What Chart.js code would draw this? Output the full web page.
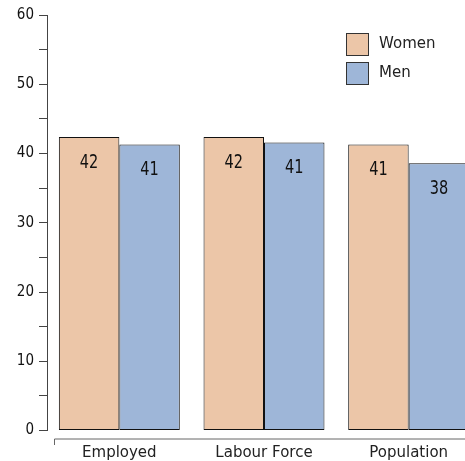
<!DOCTYPE html>
<html>
<head>
<style>
  html, body { margin: 0; padding: 0; background: #fff; overflow: hidden; }
  #wrap { width: 490px; height: 461px; }
</style>
</head>
<body>
<div id="wrap">
  <canvas id="groups" width="490" height="461"></canvas>
</div>

<script src="https://cdn.jsdelivr.net/npm/chart.js"></script>

<script>
  const categories = ['Employed', 'Labour Force', 'Population'];
  const women = [42.4, 42.4, 41.3];
  const men = [41.3, 41.6, 38.6];
  const womenLabels = ['42', '42', '41'];
  const menLabels = ['41', '41', '38'];
  const yTicks = [0, 10, 20, 30, 40, 50, 60];

  const barLabels = [womenLabels, menLabels];

  // numbers inside the top of each bar
  const valueText = {
    id: 'valueText',
    afterDatasetsDraw(chart) {
      const c = chart.ctx;
      c.save();
      c.font = '19px "DejaVu Sans Condensed"';
      c.fillStyle = '#111';
      c.textAlign = 'center';
      c.textBaseline = 'middle';
      chart.data.datasets.forEach((ds, i) => {
        chart.getDatasetMeta(i).data.forEach((bar, j) => {
          c.save();
          c.translate(bar.x, bar.y + 26);
          c.scale(0.85, 1);
          c.fillText(barLabels[i][j], 0, 0);
          c.restore();
        });
      });
      c.restore();
    }
  };

  // detached x axis line + legend in the top right
  const extras = {
    id: 'extras',
    afterDraw(chart) {
      const c = chart.ctx;
      const a = chart.chartArea;
      c.save();
      c.strokeStyle = '#666';
      c.lineWidth = 1;
      c.beginPath();
      c.moveTo(54.5, 445);
      c.lineTo(54.5, a.bottom + 8.5);
      c.lineTo(chart.width, a.bottom + 8.5);
      c.stroke();

      c.font = '15px "DejaVu Sans"';
      c.textBaseline = 'middle';
      c.textAlign = 'left';
      chart.data.datasets.forEach((ds, i) => {
        const y = 33 + i * 29;
        c.fillStyle = ds.backgroundColor;
        c.fillRect(346.5, y + 0.5, 22, 22);
        c.strokeStyle = '#333';
        c.strokeRect(346.5, y + 0.5, 22, 22);
        c.fillStyle = '#222';
        c.fillText(ds.label, 379, y + 11);
      });
      c.restore();
    }
  };

  new Chart(document.getElementById('groups'), {
    type: 'bar',
    data: {
      labels: categories,
      datasets: [{
        label: 'Women',
        data: women,
        backgroundColor: '#ecc6a8',
        borderColor: '#111',
        borderWidth: 1,
        borderSkipped: false
      }, {
        label: 'Men',
        data: men,
        backgroundColor: '#9eb6d8',
        borderColor: '#111',
        borderWidth: 1,
        borderSkipped: false
      }]
    },
    options: {
      responsive: false,
      animation: false,
      categoryPercentage: 0.836,
      barPercentage: 1.0,
      layout: { padding: { top: 15, right: 9, left: 0, bottom: 0 } },
      plugins: {
        legend: { display: false },
        tooltip: { enabled: false }
      },
      scales: {
        x: {
          grid: { display: false },
          border: { display: false },
          ticks: {
            padding: 6,
            color: '#222',
            font: { family: 'DejaVu Sans', size: 15 }
          },
          afterFit(s) { s.height = 30.5; }
        },
        y: {
          min: 0,
          max: 60,
          grid: {
            drawOnChartArea: false,
            tickLength: 8,
            color: '#444'
          },
          border: { display: true, color: '#444' },
          ticks: {
            stepSize: 5,
            padding: 5,
            color: '#111',
            font: { family: 'DejaVu Sans Condensed', size: 15 },
            callback: v => yTicks.includes(v) ? String(v) : ''
          },
          afterFit(s) { s.width = 47; }
        }
      }
    },
    plugins: [valueText, extras]
  });
</script>
</body>
</html>
